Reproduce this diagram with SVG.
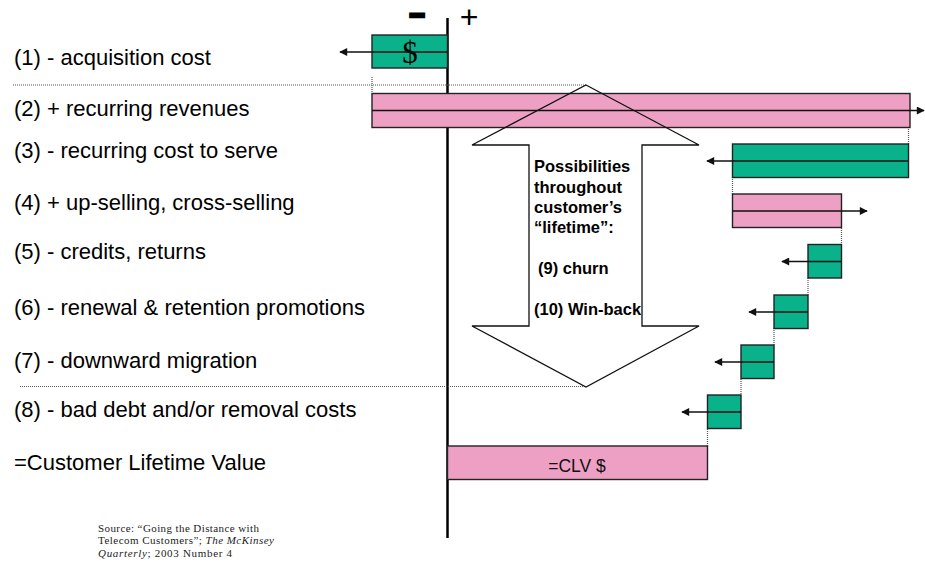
<svg xmlns="http://www.w3.org/2000/svg" width="925" height="566" viewBox="0 0 925 566">
<style>
.lbl{font-family:"Liberation Sans",Arial,sans-serif;font-size:22px;fill:#000}
.neg{fill:#0AB28C;stroke:#222;stroke-width:1.4}
.pos{fill:#EEA0C4;stroke:#222;stroke-width:1.4}
.arr{stroke:#111;stroke-width:1.6;fill:none;marker-end:url(#ah)}
.dot{stroke:#555;stroke-width:1.2;stroke-dasharray:1 1;fill:none}
.inner{font-family:"Liberation Sans",Arial,sans-serif;font-size:16.5px;font-weight:bold;fill:#000}
.src{font-family:"Liberation Serif","Times New Roman",serif;font-size:11px;fill:#222}
</style>
<defs>
<marker id="ah" viewBox="0 0 10 10" refX="9" refY="5" markerWidth="9" markerHeight="8" markerUnits="userSpaceOnUse" orient="auto">
<path d="M0,0 L10,5 L0,10 Z" fill="#111"/>
</marker>
</defs>
<rect width="925" height="566" fill="#fff"/>

<g id="labels">
<text class="lbl" x="14" y="65">(1) - acquisition cost</text>
<text class="lbl" x="14" y="116">(2) + recurring revenues</text>
<text class="lbl" x="14" y="158">(3) - recurring cost to serve</text>
<text class="lbl" x="14" y="210">(4) + up-selling, cross-selling</text>
<text class="lbl" x="14" y="259">(5) - credits, returns</text>
<text class="lbl" x="14" y="315">(6) - renewal &amp; retention promotions</text>
<text class="lbl" x="14" y="368">(7) - downward migration</text>
<text class="lbl" x="14" y="417">(8) - bad debt and/or removal costs</text>
<text class="lbl" x="14" y="470">=Customer Lifetime Value</text>
</g>

<g id="axis">
<line x1="447.5" y1="18" x2="447.5" y2="538" stroke="#000" stroke-width="2.5"/>
<text x="417" y="24.2" text-anchor="middle" font-family="Liberation Sans,Arial,sans-serif" font-size="26" font-weight="bold" stroke="#000" stroke-width="3">−</text>
<text x="469" y="27.6" text-anchor="middle" font-family="Liberation Sans,Arial,sans-serif" font-size="32" fill="#000">+</text>
</g>

<g id="connectors">
<line class="dot" x1="13" y1="85" x2="586" y2="85"/>
<line class="dot" x1="20" y1="386.5" x2="586" y2="386.5"/>
<line class="dot" x1="372" y1="77" x2="372" y2="93"/>
<line class="dot" x1="908.5" y1="127" x2="908.5" y2="144"/>
<line class="dot" x1="732.5" y1="177" x2="732.5" y2="194"/>
<line class="dot" x1="841.5" y1="228" x2="841.5" y2="244"/>
<line class="dot" x1="808" y1="278" x2="808" y2="295"/>
<line class="dot" x1="774" y1="328" x2="774" y2="345"/>
<line class="dot" x1="741" y1="379" x2="741" y2="395"/>
<line class="dot" x1="707.5" y1="429" x2="707.5" y2="446"/>
</g>

<g id="n1">
<rect class="neg" x="372" y="35" width="75.5" height="33"/>
<text x="410" y="63" text-anchor="middle" font-family="Liberation Serif,'Times New Roman',serif" font-size="31" fill="#000">$</text>
<line class="arr" x1="447" y1="52" x2="340" y2="52"/>
</g>

<g id="n2">
<rect class="pos" x="372" y="93.5" width="538" height="34"/>
<line class="arr" x1="372" y1="110.5" x2="924" y2="110.5"/>
</g>

<g id="lifetime">
<polygon points="586,85 699,145 642,145 642,326 699,326 586,387 472,326 529,326 529,145 472,145" fill="none" stroke="#111" stroke-width="1.3"/>
<text class="inner" x="534" y="172">Possibilities</text>
<text class="inner" x="534" y="192.5">throughout</text>
<text class="inner" x="534" y="213">customer’s</text>
<text class="inner" x="534" y="233">“lifetime”:</text>
<text class="inner" x="538" y="274">(9) churn</text>
<text class="inner" x="534" y="314.5">(10) Win-back</text>
</g>

<g id="n3">
<rect class="neg" x="732.5" y="144" width="176" height="33.5"/>
<line class="arr" x1="908" y1="161" x2="707" y2="161"/>
</g>

<g id="n4">
<rect class="pos" x="732.5" y="194" width="109" height="33.5"/>
<line class="arr" x1="732.5" y1="211" x2="867" y2="211"/>
</g>

<g id="n5">
<rect class="neg" x="808" y="244.5" width="33.5" height="33.5"/>
<line class="arr" x1="841" y1="261.5" x2="782" y2="261.5"/>
</g>

<g id="n6">
<rect class="neg" x="774" y="295" width="34" height="33.5"/>
<line class="arr" x1="808" y1="312" x2="749" y2="312"/>
</g>

<g id="n7">
<rect class="neg" x="741" y="345" width="33" height="33.5"/>
<line class="arr" x1="774" y1="362" x2="715" y2="362"/>
</g>

<g id="n8">
<rect class="neg" x="707.5" y="395" width="33.5" height="33.5"/>
<line class="arr" x1="741" y1="412" x2="682" y2="412"/>
</g>

<g id="clv">
<rect class="pos" x="447.5" y="446" width="260" height="33.5"/>
<text x="577" y="471.5" text-anchor="middle" font-family="Liberation Sans,Arial,sans-serif" font-size="17.5" fill="#111">=CLV $</text>
</g>

<g id="source">
<text class="src" x="98" y="531.5" textLength="161" lengthAdjust="spacing">Source: “Going the Distance with</text>
<text class="src" x="98" y="544" textLength="176" lengthAdjust="spacing">Telecom Customers”; <tspan font-style="italic">The McKinsey</tspan></text>
<text class="src" x="98" y="556.5" textLength="134" lengthAdjust="spacing"><tspan font-style="italic">Quarterly</tspan>; 2003 Number 4</text>
</g>
</svg>
